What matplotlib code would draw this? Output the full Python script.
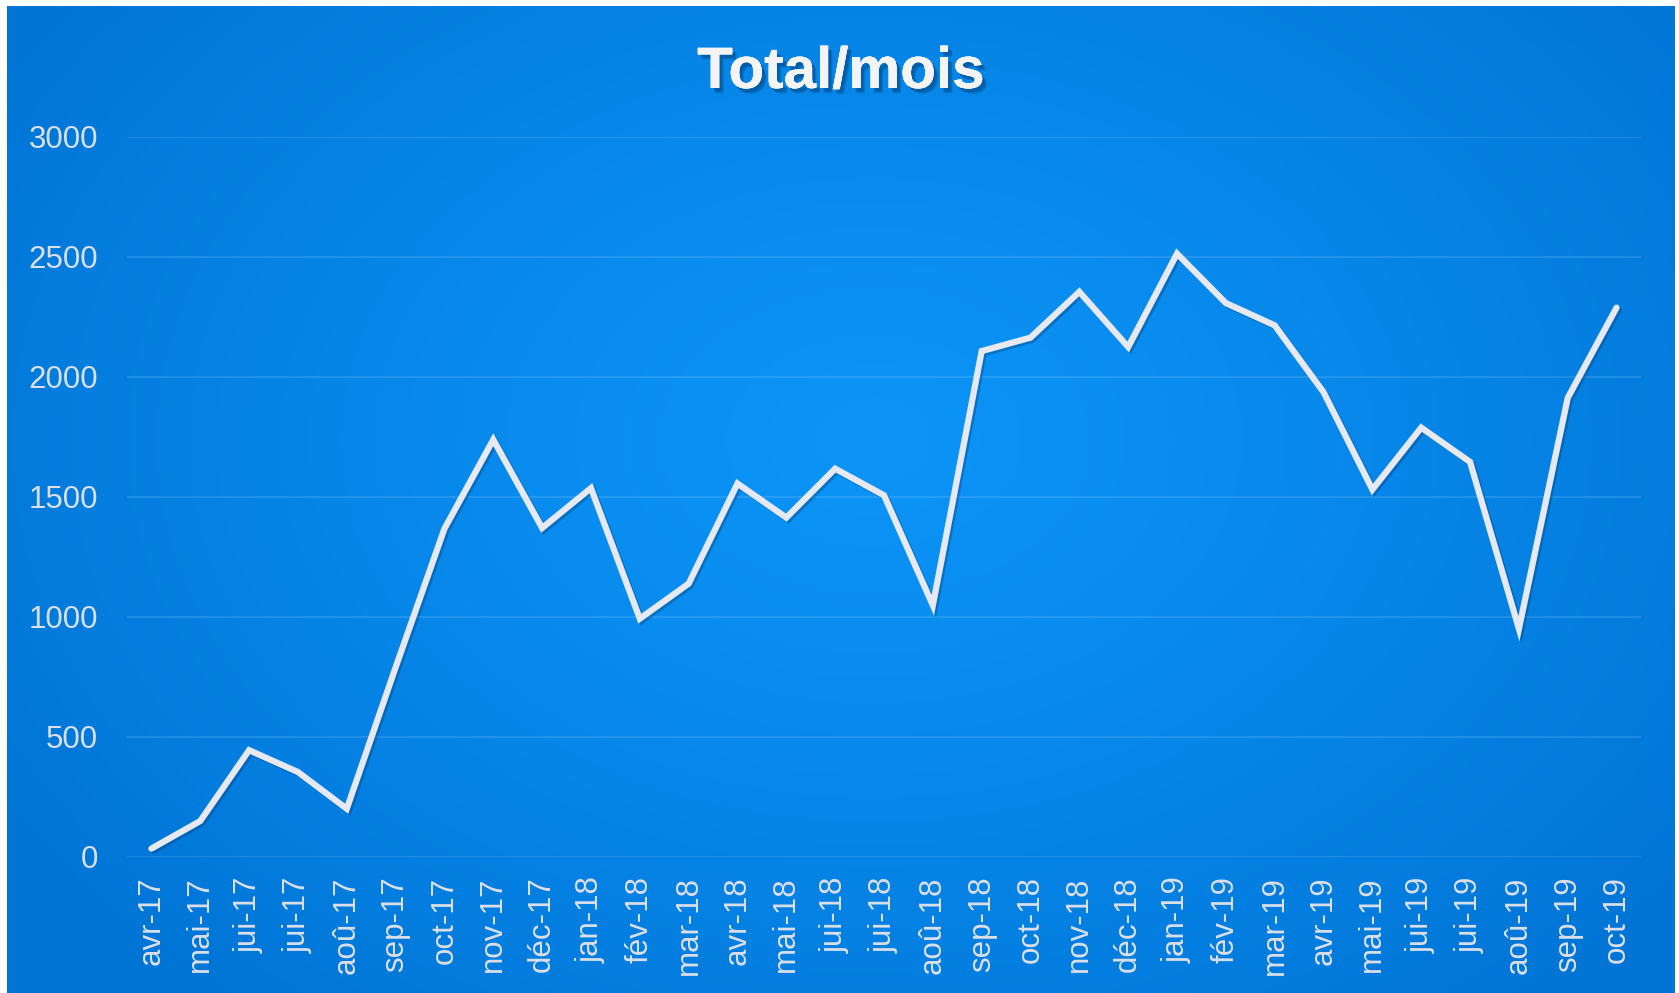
import numpy as np
import matplotlib.pyplot as plt
import matplotlib.patheffects as pe

months = ["avr-17", "mai-17", "jui-17", "jui-17", "aoû-17", "sep-17", "oct-17",
          "nov-17", "déc-17", "jan-18", "fév-18", "mar-18", "avr-18", "mai-18",
          "jui-18", "jui-18", "aoû-18", "sep-18", "oct-18", "nov-18", "déc-18",
          "jan-19", "fév-19", "mar-19", "avr-19", "mai-19", "jui-19", "jui-19",
          "aoû-19", "sep-19", "oct-19"]
totals = [35, 150, 445, 354, 201, 790, 1368, 1739, 1371, 1537, 993, 1139,
          1556, 1414, 1618, 1507, 1049, 2108, 2164, 2355, 2125, 2514, 2308,
          2215, 1937, 1531, 1789, 1646, 951, 1913, 2289]
yticks = [0, 500, 1000, 1500, 2000, 2500, 3000]

W, H = 1679, 993
fig = plt.figure(figsize=(W / 100, H / 100), dpi=100, facecolor="white")

# radial blue gradient background (white margin at top/left/right)
bg = fig.add_axes([7 / W, 0, (1674 - 7) / W, 987 / H])
bg.set_axis_off()
gx, gy = np.meshgrid(np.linspace(0, 1, 420), np.linspace(0, 1, 250))
d = np.sqrt(((gx - 0.52) / 0.62) ** 2 + ((gy - 0.44) / 0.75) ** 2)
d = np.clip(d, 0, 1) ** 1.2
center = np.array([12, 148, 247]) / 255
edge = np.array([0, 117, 214]) / 255
img = center[None, None, :] + (edge - center)[None, None, :] * d[:, :, None]
bg.imshow(img, aspect="auto", extent=[0, 1, 1, 0])
bg.set_xlim(0, 1)
bg.set_ylim(1, 0)

ax = fig.add_axes([127 / W, 1 - 857 / H, (1641 - 127) / W, (857 - 137) / H])
ax.patch.set_alpha(0)
x = np.arange(len(months))
ax.plot(x, totals, color="#e6e8f2", lw=4.5, solid_joinstyle="miter",
        solid_capstyle="round",
        path_effects=[pe.SimpleLineShadow(offset=(1.5, -1.5), shadow_color="#003a70",
                                          alpha=0.35), pe.Normal()],
        zorder=3)

ax.set_xlim(-0.5, len(months) - 0.5)
ax.set_ylim(0, 3000)
ax.set_yticks(yticks)
ax.set_yticklabels([str(v) for v in yticks])
ax.set_xticks(x)
ax.set_xticklabels(months, rotation=90, ha="center", va="top")
ax.tick_params(length=0, labelsize=22.5, labelcolor="#dcdfe8")
ax.tick_params(axis="y", pad=21)
ax.tick_params(axis="x", pad=14)
for lab in ax.get_xticklabels() + ax.get_yticklabels():
    lab.set_family(["Liberation Sans", "DejaVu Sans"])
for s in ax.spines.values():
    s.set_visible(False)
ax.grid(axis="y", color="white", alpha=0.12, lw=1.4)
ax.set_axisbelow(True)

# title with a soft drop shadow
shadow = [pe.withSimplePatchShadow(offset=(2 + i * 0.6, -2.5 - i * 0.6),
                                   shadow_rgbFace="#003060", alpha=0.18)
          for i in range(3)]
fig.text(841 / W, 1 - 88 / H, "Total/mois", ha="center", va="baseline",
         fontsize=42, fontweight="bold", color="#f4f4f6",
         family=["Liberation Sans", "DejaVu Sans"],
         path_effects=shadow + [pe.Normal()])

fig.savefig("out.png", dpi=100, facecolor="white")
